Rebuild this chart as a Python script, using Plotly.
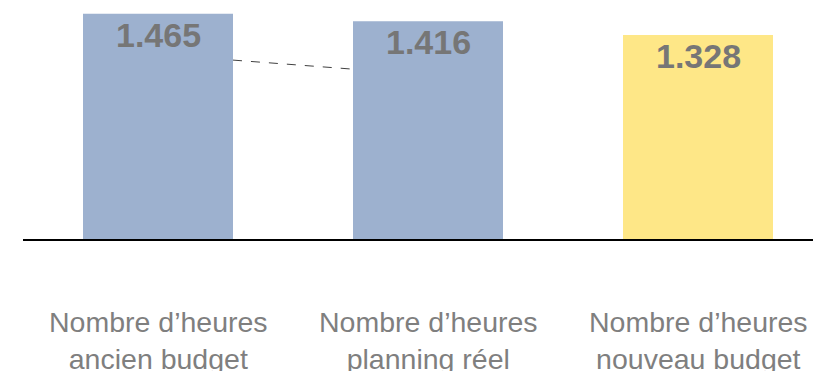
import plotly.graph_objects as go

categories = ["Nombre d’heures<br>ancien budget", "Nombre d’heures<br>planning réel", "Nombre d’heures<br>nouveau budget"]
values = [1465, 1416, 1328]
value_labels = ["1.465", "1.416", "1.328"]
bar_colors = ["#9DB1CF", "#9DB1CF", "#FEE787"]
connector_y = [1164, 1105]

BAR_W = 150 / 270
xs = list(range(len(values)))

fig = go.Figure()
fig.add_trace(go.Bar(x=xs, y=values, width=BAR_W, marker=dict(color=bar_colors, line=dict(width=0)),
                     hoverinfo="skip"))
fig.add_trace(go.Scatter(x=[xs[0] + BAR_W / 2, xs[1] - BAR_W / 2], y=connector_y, mode="lines",
                         line=dict(color="#404040", width=1, dash="dash"), hoverinfo="skip"))

for x, v, t in zip(xs, values, value_labels):
    fig.add_annotation(x=x, y=v, text="<b>" + t + "</b>", showarrow=False, yanchor="top", yshift=0,
                       font=dict(family="Liberation Sans, Arial", size=34, color="#767676"))
for x, c in zip(xs, categories):
    fig.add_annotation(x=x, y=0, yref="paper", text=c, showarrow=False, yanchor="top", yshift=-65,
                       font=dict(family="Liberation Sans, Arial", size=28.5, color="#7F7F7F"))

fig.update_layout(
    width=813, height=371, margin=dict(l=23, r=0, t=0, b=132),
    paper_bgcolor="white", plot_bgcolor="white", showlegend=False,
    xaxis=dict(range=[-0.5, -0.5 + 790 / 270], showline=True, linecolor="black", linewidth=2,
               showticklabels=False, showgrid=False, zeroline=False, ticks=""),
    yaxis=dict(range=[0, 1555], visible=False, showgrid=False, zeroline=False),
)
fig.write_html("out.html", config={"displayModeBar": False},
               post_script="document.body.style.margin='0';document.body.style.overflow='hidden';")
